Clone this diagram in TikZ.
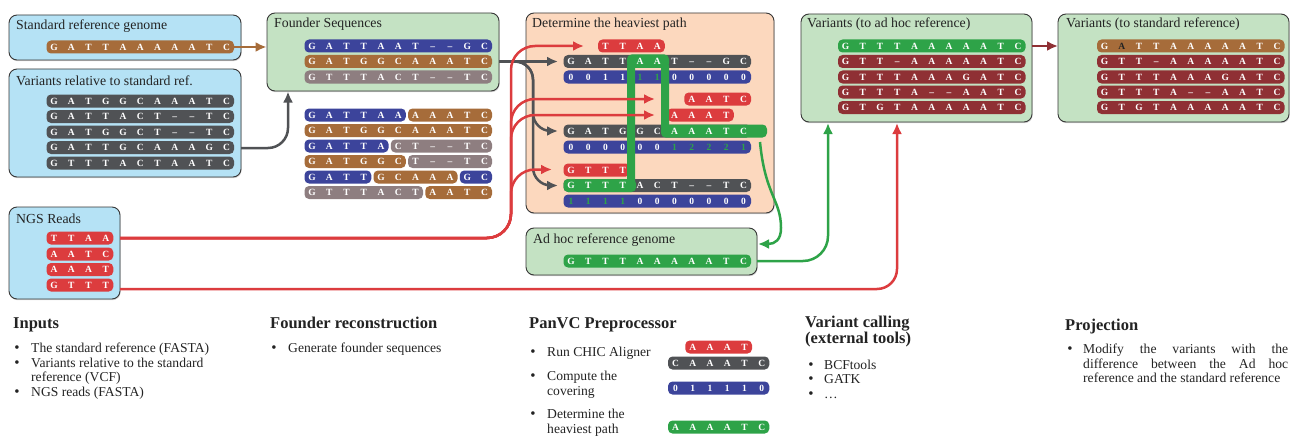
\documentclass[tikz,border=0pt]{standalone}
\usepackage{fontspec}
\setmainfont{Liberation Serif}
\usetikzlibrary{arrows.meta,shadows}
\definecolor{boxblue}{RGB}{181,226,245}
\definecolor{boxgreen}{RGB}{196,226,195}
\definecolor{boxpeach}{RGB}{252,216,190}
\definecolor{boxline}{RGB}{55,55,55}
\definecolor{sbrown}{RGB}{166,108,58}
\definecolor{sgray}{RGB}{80,82,85}
\definecolor{sblue}{RGB}{60,68,155}
\definecolor{smauve}{RGB}{142,126,128}
\definecolor{sred}{RGB}{220,60,62}
\definecolor{sgreen}{RGB}{46,163,72}
\definecolor{sdred}{RGB}{143,48,52}
\definecolor{txt}{RGB}{35,35,35}
\newcommand\seqfont{\fontsize{9.5}{10}\selectfont\bfseries}
\newcommand\gtx[1]{\textcolor{sgreen}{#1}}
\newcommand\btx[1]{\textcolor{txt}{#1}}
\newcommand\gp{\textendash}
\newcommand\pill[5]{\fill[#1,rounded corners=4.5pt] ({#2+#4*17.25-7.5},{#3-6.5}) rectangle ({#2+#5*17.25+7.5},{#3+6.5});}
\newcommand\seqtxt[4]{\foreach \sq [count=\i from 0] in {#4} {\node[lt] at ({#1+(\i+#3)*17.25},#2) {\sq};}}
\newcommand\seqrow[6]{\pill{#1}{#2}{#3}{#4}{#5}\seqtxt{#2}{#3}{#4}{#6}}
\begin{document}
\begin{tikzpicture}[x=1pt,y=-1pt,
  lt/.style={text=white,font=\seqfont,inner sep=0pt,text height=6.6pt,text depth=0pt},
  box/.style={draw=boxline,line width=0.9pt,rounded corners=8pt,fill=#1,inner sep=0pt,
    drop shadow={shadow xshift=0.6pt,shadow yshift=-1.2pt,opacity=0.35}},
  ttl/.style={anchor=base west,inner sep=0pt,text=txt,font=\fontsize{13.8}{15}\selectfont},
  hd/.style={anchor=base west,inner sep=0pt,text=txt,font=\fontsize{16.5}{18}\selectfont\bfseries},
  bt/.style={anchor=base west,inner sep=0pt,text=txt,font=\fontsize{13.6}{15}\selectfont},
  bl/.style={anchor=base,inner sep=0pt,text=txt,font=\fontsize{15}{15}\selectfont},
  conn/.style={line width=2.5pt,-{Latex[length=11pt,width=10pt]}},
]
\useasboundingbox (0,0) rectangle (1290,436);

% ---------- boxes
\node[box=boxblue,minimum width=232pt,minimum height=45pt] (stdbox) at (125,37.5) {};
\node[box=boxblue,minimum width=232pt,minimum height=108pt] (varbox) at (125,123) {};
\node[box=boxblue,minimum width=111pt,minimum height=92pt] (ngsbox) at (64.5,253) {};
\node[box=boxgreen,minimum width=232pt,minimum height=78pt] (fndbox) at (383,52) {};
\node[box=boxpeach,minimum width=248pt,minimum height=200pt] (hvybox) at (650,113) {};
\node[box=boxgreen,minimum width=231pt,minimum height=47pt] (adhbox) at (641.5,251.5) {};
\node[box=boxgreen,minimum width=231pt,minimum height=108pt] (vahbox) at (916.5,68) {};
\node[box=boxgreen,minimum width=231pt,minimum height=108pt] (vstbox) at (1173.5,68) {};

% ---------- titles
\node[ttl] (t-std) at (16,30) {Standard reference genome};
\node[ttl] (t-var) at (16,85) {Variants relative to standard ref.};
\node[ttl] (t-ngs) at (16,223) {NGS Reads};
\node[ttl] (t-fnd) at (274,28) {Founder Sequences};
\node[ttl] (t-hvy) at (532,28) {Determine the heaviest path};
\node[ttl] (t-adh) at (533,243) {Ad hoc reference genome};
\node[ttl] (t-vah) at (807,28) {Variants (to ad hoc reference)};
\node[ttl] (t-vst) at (1066,28) {Variants (to standard reference)};

% ---------- inputs
\seqrow{sbrown}{54}{47}{0}{10}{G,A,T,T,A,A,A,A,A,T,C}
\seqrow{sgray}{54}{101}{0}{10}{G,A,T,G,G,C,A,A,A,T,C}
\seqrow{sgray}{54}{116.5}{0}{10}{G,A,T,T,A,C,T,\gp,\gp,T,C}
\seqrow{sgray}{54}{132}{0}{10}{G,A,T,G,G,C,T,\gp,\gp,T,C}
\seqrow{sgray}{54}{147.5}{0}{10}{G,A,T,T,G,C,A,A,A,G,C}
\seqrow{sgray}{54}{163}{0}{10}{G,T,T,T,A,C,T,A,A,T,C}
\seqrow{sred}{54}{238}{0}{3}{T,T,A,A}
\seqrow{sred}{54}{254}{0}{3}{A,A,T,C}
\seqrow{sred}{54}{269.5}{0}{3}{A,A,A,T}
\seqrow{sred}{54}{285}{0}{3}{G,T,T,T}

% ---------- founders
\seqrow{sblue}{312}{46}{0}{10}{G,A,T,T,A,A,T,\gp,\gp,G,C}
\seqrow{sbrown}{312}{61.5}{0}{10}{G,A,T,G,G,C,A,A,A,T,C}
\seqrow{smauve}{312}{77}{0}{10}{G,T,T,T,A,C,T,\gp,\gp,T,C}

\seqrow{sblue}{312}{115}{0}{5}{G,A,T,T,A,A}
\seqrow{sbrown}{312}{115}{6}{10}{A,A,A,T,C}
\seqrow{sbrown}{312}{130.5}{0}{10}{G,A,T,G,G,C,A,A,A,T,C}
\seqrow{sblue}{312}{146}{0}{4}{G,A,T,T,A}
\seqrow{smauve}{312}{146}{5}{10}{C,T,\gp,\gp,T,C}
\seqrow{sbrown}{312}{161.5}{0}{5}{G,A,T,G,G,C}
\seqrow{smauve}{312}{161.5}{6}{10}{T,\gp,\gp,T,C}
\seqrow{sblue}{312}{177}{0}{3}{G,A,T,T}
\seqrow{sbrown}{312}{177}{4}{8}{G,C,A,A,A}
\seqrow{sblue}{312}{177}{9}{10}{G,C}
\seqrow{smauve}{312}{192.5}{0}{6}{G,T,T,T,A,C,T}
\seqrow{sbrown}{312}{192.5}{7}{10}{A,A,T,C}

% ---------- heaviest path
\pill{sred}{571}{46}{2}{5}
\pill{sgray}{571}{61.5}{0}{10}
\pill{sblue}{571}{77}{0}{10}
\pill{sred}{571}{99}{7}{10}
\pill{sred}{571}{115}{6}{9}
\pill{sgray}{571}{131}{0}{10}
\pill{sblue}{571}{147}{0}{10}
\pill{sred}{571}{170}{0}{3}
\pill{sgray}{571}{185.5}{0}{10}
\pill{sblue}{571}{201}{0}{10}
\fill[sgreen,rounded corners=4.5pt] (563.5,179) rectangle (636,192);
\fill[sgreen,rounded corners=4.5pt] (627,54.5) rectangle (669,68);
\fill[sgreen,rounded corners=4.5pt] (661,124.5) rectangle (767,137.5);
\draw[sgreen,line width=8pt,rounded corners=5pt] (631,184) -- (631,61.5) -- (665,61.5) -- (665,131) -- (700,131);
\seqtxt{571}{46}{2}{T,T,A,A}
\seqtxt{571}{61.5}{0}{G,A,T,T,A,A,T,\gp,\gp,G,C}
\seqtxt{571}{77}{0}{0,0,1,1,\gtx{1},\gtx{1},0,0,0,0,0}
\seqtxt{571}{99}{7}{A,A,T,C}
\seqtxt{571}{115}{6}{A,A,A,T}
\seqtxt{571}{131}{0}{G,A,T,G,G,C,A,A,A,T,C}
\seqtxt{571}{147}{0}{0,0,0,0,0,0,\gtx{1},\gtx{2},\gtx{2},\gtx{2},\gtx{1}}
\seqtxt{571}{170}{0}{G,T,T,T}
\seqtxt{571}{185.5}{0}{G,T,T,T,A,C,T,\gp,\gp,T,C}
\seqtxt{571}{201}{0}{\gtx{1},\gtx{1},\gtx{1},\gtx{1},0,0,0,0,0,0,0}

% ---------- ad hoc reference
\seqrow{sgreen}{571}{261}{0}{10}{G,T,T,T,A,A,A,A,A,T,C}

% ---------- variants (ad hoc)
\seqrow{sgreen}{845.5}{46}{0}{10}{G,T,T,T,A,A,A,A,A,T,C}
\seqrow{sdred}{845.5}{61.5}{0}{10}{G,T,T,\gp,A,A,A,A,A,T,C}
\seqrow{sdred}{845.5}{77}{0}{10}{G,T,T,T,A,A,A,G,A,T,C}
\seqrow{sdred}{845.5}{92}{0}{10}{G,T,T,T,A,\gp,\gp,A,A,T,C}
\seqrow{sdred}{845.5}{107.5}{0}{10}{G,T,G,T,A,A,A,A,A,T,C}
% ---------- variants (standard)
\seqrow{sbrown}{1104.5}{46}{0}{10}{G,\btx{A},T,T,A,A,A,A,A,T,C}
\seqrow{sdred}{1104.5}{61.5}{0}{10}{G,T,T,\gp,A,A,A,A,A,T,C}
\seqrow{sdred}{1104.5}{77}{0}{10}{G,T,T,T,A,A,A,G,A,T,C}
\seqrow{sdred}{1104.5}{92}{0}{10}{G,T,T,T,A,\gp,\gp,A,A,T,C}
\seqrow{sdred}{1104.5}{107.5}{0}{10}{G,T,G,T,A,A,A,A,A,T,C}

% ---------- connectors
\coordinate (stdE) at (233,47);
\coordinate (varE) at (241,148);
\coordinate (fndS) at (288,91.5);
\coordinate (fndE) at (499,61.5);
\coordinate (ngs1) at (120,238);
\coordinate (ngs4) at (120,289);
\coordinate (hvyE) at (760,142);
\coordinate (adhE) at (757,261);
\coordinate (adhIn) at (758,244);
\coordinate (vahS1) at (828,123);
\coordinate (vahS2) at (897,123);
\coordinate (vahE) at (1032,46);
\coordinate (vstW) at (1058,46);
\draw[conn,sbrown] (stdE) -- (fndbox.west |- stdE);
\draw[conn,sgray,rounded corners=20pt] (varE) -| (fndS);
\draw[conn,sgray] (fndE) -- (558,61.5);
\draw[conn,sgray,rounded corners=18pt] (fndE) -| (533,131) -- (558,131);
\draw[conn,sgray,rounded corners=18pt] (fndE) -| (533,185.5) -- (558,185.5);
\draw[conn,sred,rounded corners=24pt] (ngs1) -- (511,238) -- (511,46) -- (584,46);
\draw[conn,sred,rounded corners=24pt] (ngs1) -- (511,238) -- (511,99) -- (655,99);
\draw[conn,sred,rounded corners=24pt] (ngs1) -- (511,238) -- (511,115) -- (655,115);
\draw[conn,sred,rounded corners=24pt] (ngs1) -- (511,238) -- (511,169.5) -- (552,169.5);
\draw[conn,sred,rounded corners=20pt] (ngs4) -| (vahS2);
\draw[conn,sgreen] (hvyE) .. controls (765,195) and (781,200) .. (781,228) .. controls (781,240) and (775,244) .. (adhIn);
\draw[conn,sgreen,rounded corners=25pt] (adhE) -| (vahS1);
\draw[conn,sdred] (vahE) -- (vstW);

% ---------- legend
\node[hd] (h-in) at (13,328) {Inputs};
\node[bl] (b-in1) at (17,352) {•};
\node[bt] (l-in1) at (31,352) {The standard reference (FASTA)};
\node[bl] (b-in2) at (17,367) {•};
\node[bt] (l-in2) at (31,367) {Variants relative to the standard};
\node[bt] (l-in3) at (31,381) {reference (VCF)};
\node[bl] (b-in3) at (17,396) {•};
\node[bt] (l-in4) at (31,396) {NGS reads (FASTA)};

\node[hd] (h-fn) at (270,328) {Founder reconstruction};
\node[bl] (b-fn1) at (274,352) {•};
\node[bt] (l-fn1) at (288,352) {Generate founder sequences};

\node[hd] (h-pv) at (529,328) {PanVC Preprocessor};
\node[bl] (b-pv1) at (533,356) {•};
\node[bt] (l-pv1) at (547,356) {Run CHIC Aligner};
\node[bl] (b-pv2) at (533,380) {•};
\node[bt] (l-pv2) at (547,380) {Compute the};
\node[bt] (l-pv3) at (547,395) {covering};
\node[bl] (b-pv3) at (533,418) {•};
\node[bt] (l-pv4) at (547,418) {Determine the};
\node[bt] (l-pv5) at (547,433) {heaviest path};
\seqrow{sred}{675.5}{347}{1}{4}{A,A,A,T}
\seqrow{sgray}{675.5}{363}{0}{5}{C,A,A,A,T,C}
\seqrow{sblue}{675.5}{388}{0}{5}{0,1,1,1,1,0}
\seqrow{sgreen}{675.5}{427}{0}{5}{A,A,A,A,T,C}

\node[hd] (h-vc1) at (805,327) {Variant calling};
\node[hd] (h-vc2) at (805,343) {(external tools)};
\node[bl] (b-vc1) at (811,369) {•};
\node[bt] (l-vc1) at (824,369) {BCFtools};
\node[bl] (b-vc2) at (811,383) {•};
\node[bt] (l-vc2) at (824,383) {GATK};
\node[bl] (b-vc3) at (811,398) {•};
\node[bt] (l-vc3) at (824,398) {…};

\node[hd] (h-pr) at (1065,330) {Projection};
\node[bl] (b-pr1) at (1070,353) {•};
\node[bt] (l-pr1) at (1083,353) {\makebox[205pt][s]{Modify the variants with the}};
\node[bt] (l-pr2) at (1083,368) {\makebox[205pt][s]{difference between the Ad hoc}};
\node[bt] (l-pr3) at (1083,382) {reference and the standard reference};
\end{tikzpicture}
\end{document}
